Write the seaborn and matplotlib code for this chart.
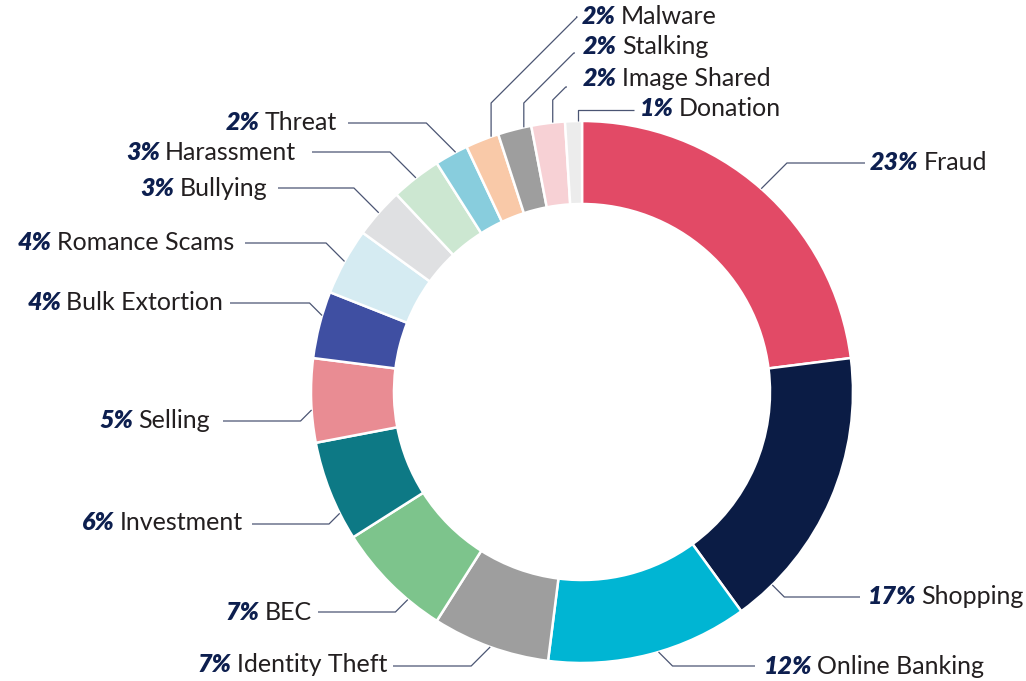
import numpy as np
import matplotlib
matplotlib.use("Agg")
import matplotlib.pyplot as plt
import seaborn as sns

# data
categories = ["Fraud", "Shopping", "Online Banking", "Identity Theft", "BEC",
              "Investment", "Selling", "Bulk Extortion", "Romance Scams",
              "Bullying", "Harassment", "Threat", "Malware", "Stalking",
              "Image Shared", "Donation"]
shares = [23, 17, 12, 7, 7, 6, 5, 4, 4, 3, 3, 2, 2, 2, 2, 1]
colors = ["#e24a66", "#0b1c45", "#00b5d3", "#9e9e9e", "#7dc48c", "#0d7985",
          "#e98c93", "#3f4fa2", "#d5ebf2", "#dfe0e2", "#cce7d1", "#88cddd",
          "#f9c9a8", "#9e9e9e", "#f7d1d5", "#ececec"]

# label layout, in pixels from the top-left corner
side = ["R", "R", "R", "L", "L", "L", "L", "L", "L", "L", "L", "L", "R", "R", "R", "R"]
text_y = [163, 597, 666, 665, 612, 523, 421, 302, 243, 188, 152, 123, 17, 47, 78, 108]
line_y = [163, 597, 666, 666, 612, 524, 421, 303, 243, 188, 152, 123, 17, 53, 87, 110]
line_x = [865, 860, 755, 393, 318, 252, 223, 230, 245, 278, 312, 348, 576, 575, 567, 634]
text_x = [870, 868, 764, 387, 312, 243, 210, 223, 234, 267, 296, 337, 582, 583, 583, 640]
knee_y = [None] * 12 + [103, 103, 100, 110]
nudge = [0, -22, 2, 0, 5, 5, 2, -2, 0, 0, 0, -1, -2, -2, -1, -1]

W, H = 1026, 681
cx, cy, R = 582, H - 392, 271
ring = 83

sns.set_theme(style="white")
plt.rcParams["font.family"] = ["Lato", "DejaVu Sans"]

fig = plt.figure(figsize=(W / 100, H / 100), dpi=100)
ax = fig.add_axes([0, 0, 1, 1])
palette = sns.color_palette(colors)
ax.pie(shares, colors=palette, startangle=90, counterclock=False,
       radius=R, center=(cx, cy),
       wedgeprops=dict(width=ring, edgecolor="white", linewidth=1.8))
ax.set_xlim(0, W)
ax.set_ylim(0, H)
ax.axis("off")

pct_color = "#0d1f4f"
name_color = "#231f20"
line_color = "#4b5573"
fs = 18

cum = np.cumsum(shares)
mids = 90 - 360 * (cum - np.array(shares) / 2) / 100

for i, name in enumerate(categories):
    a = np.deg2rad(mids[i] + nudge[i])
    x0, y0 = cx + R * np.cos(a), cy + R * np.sin(a)
    xs, ys = [x0], [y0]
    if knee_y[i] is not None:
        xs.append(x0)
        ys.append(H - knee_y[i])
    sgn = 1 if side[i] == "R" else -1
    ly = H - line_y[i]
    xs.append(xs[-1] + sgn * abs(ys[-1] - ly))
    ys.append(ly)
    xs.append(line_x[i])
    ys.append(ly)
    ax.plot(xs, ys, color=line_color, lw=0.9, solid_capstyle="butt")

    pct = f"{shares[i]}%"
    ty = H - text_y[i]
    if side[i] == "R":
        t = ax.text(text_x[i], ty, pct, ha="left", va="center", fontsize=fs,
                    fontweight="heavy", style="italic", color=pct_color)
        ax.annotate(name, xy=(1, 0), xycoords=t, xytext=(3.5, 0),
                    textcoords="offset points", ha="left", va="bottom",
                    fontsize=fs, color=name_color)
    else:
        t = ax.text(text_x[i], ty, name, ha="right", va="center", fontsize=fs,
                    color=name_color)
        ax.annotate(pct, xy=(0, 0), xycoords=t, xytext=(-3.5, 0),
                    textcoords="offset points", ha="right", va="bottom",
                    fontsize=fs, fontweight="heavy", style="italic",
                    color=pct_color)

fig.savefig("out.png", dpi=100)
